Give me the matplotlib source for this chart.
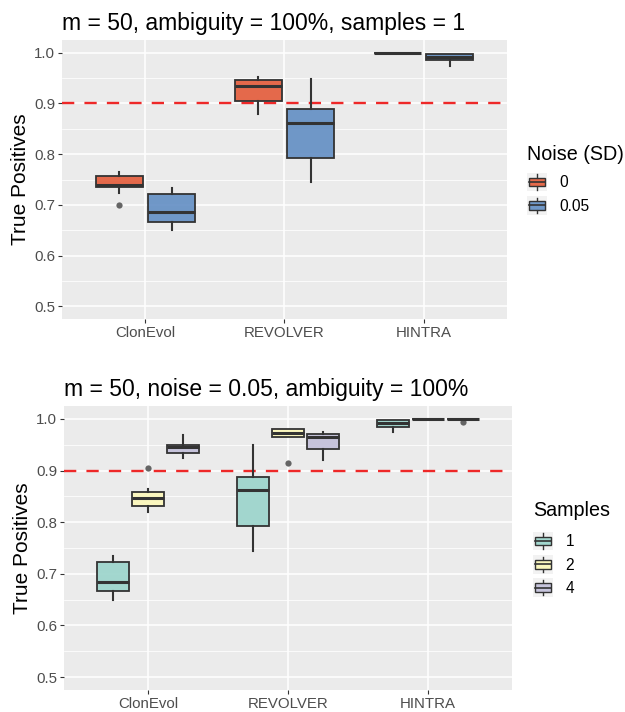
import matplotlib
matplotlib.use("Agg")
import matplotlib.pyplot as plt
from matplotlib.legend_handler import HandlerBase
from matplotlib.patches import Rectangle, Patch
from matplotlib.lines import Line2D
from matplotlib.ticker import MultipleLocator

plt.rcParams['font.family'] = ['Liberation Sans', 'DejaVu Sans']

methods = ["ClonEvol", "REVOLVER", "HINTRA"]

# top panel: noise levels
noise_labels = ["0", "0.05"]
noise0_med = [0.739, 0.934, 1.0]
noise0_q1 = [0.735, 0.904, 1.0]
noise0_q3 = [0.757, 0.946, 1.0]
noise0_lo = [0.724, 0.879, 1.0]
noise0_hi = [0.764, 0.953, 1.0]
noise0_out = [[0.700], [], []]

noise05_med = [0.685, 0.862, 0.991]
noise05_q1 = [0.666, 0.793, 0.986]
noise05_q3 = [0.722, 0.888, 0.997]
noise05_lo = [0.650, 0.745, 0.974]
noise05_hi = [0.734, 0.949, 0.998]
noise05_out = [[], [], []]

# bottom panel: number of samples
sample_labels = ["1", "2", "4"]
s1_med = [0.685, 0.862, 0.992]
s1_q1 = [0.666, 0.793, 0.985]
s1_q3 = [0.722, 0.888, 0.998]
s1_lo = [0.650, 0.745, 0.974]
s1_hi = [0.734, 0.949, 0.998]
s1_out = [[], [], []]

s2_med = [0.847, 0.972, 1.0]
s2_q1 = [0.831, 0.964, 1.0]
s2_q3 = [0.858, 0.980, 1.0]
s2_lo = [0.820, 0.964, 1.0]
s2_hi = [0.865, 0.980, 1.0]
s2_out = [[0.905], [0.914], []]

s4_med = [0.945, 0.965, 1.0]
s4_q1 = [0.934, 0.942, 1.0]
s4_q3 = [0.950, 0.970, 1.0]
s4_lo = [0.924, 0.921, 1.0]
s4_hi = [0.969, 0.974, 1.0]
s4_out = [[], [], [0.994]]

threshold = 0.9

noise_colors = ["#E45B39", "#628EC4"]
sample_colors = ["#9AD4CB", "#FCF8B9", "#C2BFDA"]
EDGE = "#333333"
ALPHA = 0.9


def make_stats(med, q1, q3, lo, hi, out):
    return [dict(med=med[i], q1=q1[i], q3=q3[i], whislo=lo[i], whishi=hi[i], fliers=out[i])
            for i in range(len(med))]


class BoxKey(HandlerBase):
    # little boxplot glyph on a grey key, like ggplot's legend keys
    def create_artists(self, legend, orig_handle, xdescent, ydescent, width, height, fontsize, trans):
        x0, y0 = -xdescent, -ydescent
        bg = Rectangle((x0, y0), width, height, fc="#F2F2F2", ec="none", transform=trans)
        bx0, bw = x0 + width * 0.12, width * 0.76
        by0, bh = y0 + height * 0.27, height * 0.46
        box = Rectangle((bx0, by0), bw, bh, fc=orig_handle.get_facecolor(), ec=EDGE, lw=1.0, transform=trans)
        med = Line2D([bx0, bx0 + bw], [y0 + height / 2] * 2, color=EDGE, lw=1.2, transform=trans)
        w1 = Line2D([x0 + width / 2] * 2, [y0 + height * 0.08, by0], color=EDGE, lw=1.0, transform=trans)
        w2 = Line2D([x0 + width / 2] * 2, [by0 + bh, y0 + height * 0.92], color=EDGE, lw=1.0, transform=trans)
        return [bg, w1, w2, box, med]


def style_axes(ax):
    ax.set_facecolor("#EBEBEB")
    for s in ax.spines.values():
        s.set_visible(False)
    ax.set_xlim(0.4, 3.6)
    ax.set_ylim(0.475, 1.025)
    ax.set_xticks([1, 2, 3])
    ax.set_xticklabels(methods)
    ax.set_yticks([0.5, 0.6, 0.7, 0.8, 0.9, 1.0])
    ax.set_yticklabels(["0.5", "0.6", "0.7", "0.8", "0.9", "1.0"])
    ax.yaxis.set_minor_locator(MultipleLocator(0.05))
    ax.grid(which="major", color="white", lw=1.1)
    ax.grid(which="minor", axis="y", color="white", lw=0.55)
    ax.set_axisbelow(True)
    ax.tick_params(which="major", length=3, width=0.8, color=EDGE, labelcolor="#4D4D4D", labelsize=10.8, pad=2)
    ax.tick_params(which="minor", length=0)
    ax.set_ylabel("True Positives", fontsize=15, labelpad=3)


def draw_groups(ax, groups, colors, dodge):
    n = len(groups)
    w = dodge / n
    for k, st in enumerate(groups):
        pos = [i + 1 - dodge / 2 + w * (k + 0.5) for i in range(len(st))]
        bp = ax.bxp(st, positions=pos, widths=w * 0.9, patch_artist=True, showcaps=False, manage_ticks=False,
                    boxprops=dict(facecolor=colors[k], edgecolor=EDGE, lw=1.3),
                    medianprops=dict(color=EDGE, lw=2.2),
                    whiskerprops=dict(color=EDGE, lw=1.5),
                    flierprops=dict(marker="o", markersize=4.5, markerfacecolor="#555555",
                                    markeredgecolor="none", alpha=0.9))
        for b in bp["boxes"]:
            b.set_facecolor(matplotlib.colors.to_rgba(colors[k], ALPHA))
    ax.axhline(threshold, color="#EE2828", lw=1.7, dashes=(5.2, 4.3), zorder=1.9)


fig = plt.figure(figsize=(6.25, 7.12), dpi=100)

ax1 = fig.add_axes([62 / 625, 1 - 319 / 712, 445 / 625, 279 / 712])
style_axes(ax1)
top_groups = [make_stats(noise0_med, noise0_q1, noise0_q3, noise0_lo, noise0_hi, noise0_out),
              make_stats(noise05_med, noise05_q1, noise05_q3, noise05_lo, noise05_hi, noise05_out)]
draw_groups(ax1, top_groups, noise_colors, 0.75)
ax1.set_title("m = 50, ambiguity = 100%, samples = 1", loc="left", fontsize=16.5, pad=7)

ax2 = fig.add_axes([64 / 625, 1 - 690 / 712, 448 / 625, 284 / 712])
style_axes(ax2)
bot_groups = [make_stats(s1_med, s1_q1, s1_q3, s1_lo, s1_hi, s1_out),
              make_stats(s2_med, s2_q1, s2_q3, s2_lo, s2_hi, s2_out),
              make_stats(s4_med, s4_q1, s4_q3, s4_lo, s4_hi, s4_out)]
draw_groups(ax2, bot_groups, sample_colors, 0.75)
ax2.set_title("m = 50, noise = 0.05, ambiguity = 100%", loc="left", fontsize=16.5, pad=7)

# legends: keys via fig.legend, titles as separate text so the gap matches ggplot
leg_kw = dict(loc="upper left", frameon=False, handler_map={Patch: BoxKey()}, fontsize=11.2,
              handlelength=1.29, handleheight=1.45, handletextpad=0.8,
              labelspacing=0.3, borderpad=0, borderaxespad=0)

h1 = [Patch(facecolor=matplotlib.colors.to_rgba(c, ALPHA)) for c in noise_colors]
fig.legend(h1, noise_labels, bbox_to_anchor=(527 / 625, 1 - 173 / 712), **leg_kw)
fig.text(527 / 625, 1 - 155 / 712, "Noise (SD)", fontsize=14.2, ha="left", va="center")

h2 = [Patch(facecolor=matplotlib.colors.to_rgba(c, ALPHA)) for c in sample_colors]
fig.legend(h2, sample_labels, bbox_to_anchor=(533 / 625, 1 - 532 / 712), **leg_kw)
fig.text(533 / 625, 1 - 511 / 712, "Samples", fontsize=14.2, ha="left", va="center")

fig.savefig("out.png", dpi=100)
